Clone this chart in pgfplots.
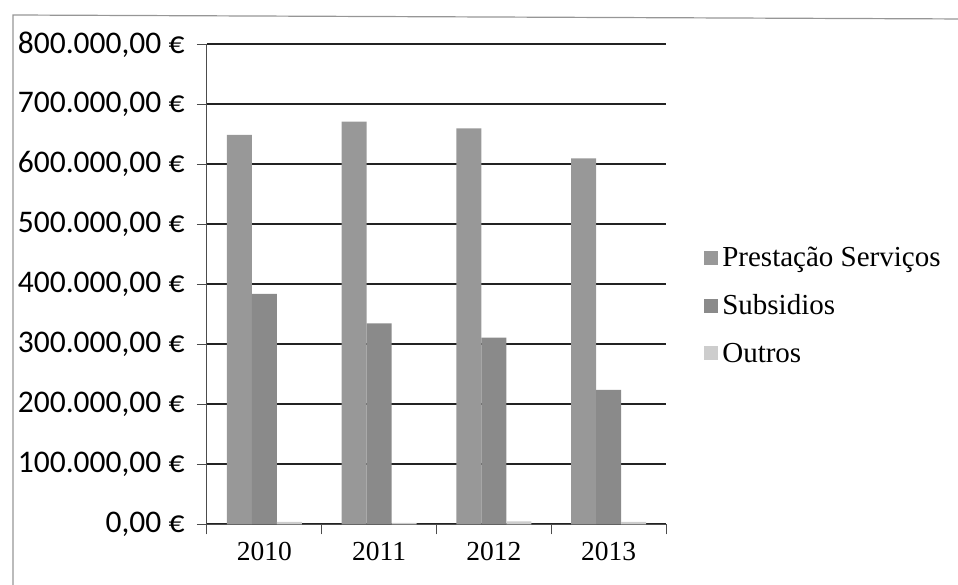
\documentclass[border=0pt]{standalone}
\usepackage{fontspec}
\setmainfont{Liberation Serif}
\newfontfamily\numfont{Carlito}
\usepackage{pgfplots}
\pgfplotsset{compat=1.18}
\definecolor{prest}{RGB}{152,152,152}
\definecolor{subs}{RGB}{138,138,138}
\definecolor{outros}{RGB}{205,205,205}
\definecolor{gridc}{RGB}{35,35,35}
\definecolor{framec}{RGB}{150,150,150}

\begin{document}
\begin{tikzpicture}
% page area, measured from the lower-left corner of the plot box
\path[use as bounding box] (-207pt,-59.7pt) rectangle (751pt,524.3pt);
% chart frame
\draw[framec, line width=1.2pt] (-194pt,-70pt) -- (-194pt,509.3pt) -- (760pt,505.3pt);
\begin{axis}[
  at={(0pt,0pt)}, anchor=south west, scale only axis,
  width=459pt, height=480pt,
  xmin=-0.5, xmax=3.5, ymin=0, ymax=800000,
  axis x line*=bottom, axis y line*=left,
  axis line style={gray!60!black, line width=1pt},
  tick style={gray!60!black, line width=1pt},
  tick align=outside, major tick length=10pt,
  xtick={-0.5,0.5,1.5,2.5,3.5},
  x tick label as interval,
  xticklabels={2010,2011,2012,2013},
  xticklabel style={font=\fontsize{27.5}{32}\selectfont, yshift=-4pt},
  ytick={0,100000,200000,300000,400000,500000,600000,700000,800000},
  yticklabels={{0,00 €},{100.000,00 €},{200.000,00 €},{300.000,00 €},{400.000,00 €},{500.000,00 €},{600.000,00 €},{700.000,00 €},{800.000,00 €}},
  scaled y ticks=false,
  yticklabel style={font=\numfont\fontsize{31.5}{37}\selectfont, xshift=-9pt},
  ymajorgrids, major grid style={gridc, line width=1.7pt},
  bar width=0.218,
  legend style={at={(1.0765,0.456)}, anchor=west, draw=none, fill=none,
    font=\fontsize{29}{34}\selectfont, row sep=22.5pt},
  legend cell align=left,
  legend image code/.code={\fill[#1] (0pt,-7pt) rectangle (14pt,7pt); \path (16pt,0pt);},
]
\addplot[ybar, bar shift=-0.218, fill=prest, draw=none]
  coordinates {(0,649000) (1,671000) (2,660000) (3,610000)};
\addlegendentry{Prestação Serviços}
\addplot[ybar, bar shift=0, fill=subs, draw=none]
  coordinates {(0,384000) (1,335000) (2,311000) (3,224000)};
\addlegendentry{Subsidios}
\addplot[ybar, bar shift=0.218, fill=outros, draw=none]
  coordinates {(0,4000) (1,2500) (2,5000) (3,4000)};
\addlegendentry{Outros}
\end{axis}
\end{tikzpicture}
\end{document}
